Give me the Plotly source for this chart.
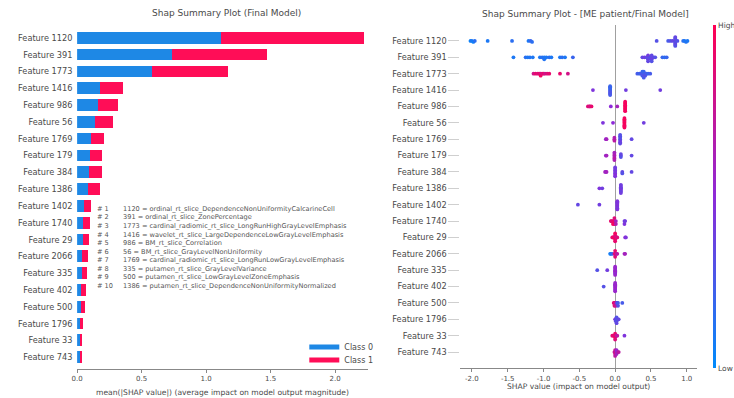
import numpy as np
import plotly.graph_objects as go

W, H = 734, 398

# ---------------------------------------------------------------- data
features = [
    "Feature 1120", "Feature 391", "Feature 1773", "Feature 1416", "Feature 986",
    "Feature 56", "Feature 1769", "Feature 179", "Feature 384", "Feature 1386",
    "Feature 1402", "Feature 1740", "Feature 29", "Feature 2066", "Feature 335",
    "Feature 402", "Feature 500", "Feature 1796", "Feature 33", "Feature 743",
]

# mean(|SHAP value|) per class for the bar summary
class0_mean_abs = [1.113, 0.735, 0.585, 0.180, 0.160, 0.140, 0.105, 0.097, 0.095, 0.088,
                   0.055, 0.050, 0.046, 0.042, 0.037, 0.033, 0.031, 0.024, 0.020, 0.020]
class1_mean_abs = [1.113, 0.735, 0.585, 0.180, 0.160, 0.140, 0.105, 0.097, 0.095, 0.088,
                   0.055, 0.050, 0.046, 0.042, 0.037, 0.033, 0.031, 0.024, 0.020, 0.020]

x_ticks_bar = [0.0, 0.5, 1.0, 1.5, 2.0]
x_ticks_swarm = [-2.0, -1.5, -1.0, -0.5, 0.0, 0.5, 1.0]

# per-feature SHAP values (ME patients) and normalised feature values (0 = low, 1 = high)
shap_1120 = [-2.02, -2.00, -1.98, -1.96, -1.78, -1.44, -1.21, -1.18, -1.16, 0.58, 0.74, 0.77, 0.80,
             0.84, 0.84, 0.84, 0.84, 0.84, 0.84, 0.84, 0.84, 0.84, 0.84, 0.87, 0.95, 0.97, 0.99, 1.01]
fval_1120 = [0.05, 0.10, 0.05, 0.15, 0.10, 0.15, 0.10, 0.20, 0.15, 0.30, 0.25, 0.30, 0.35,
             0.30, 0.35, 0.40, 0.30, 0.35, 0.32, 0.30, 0.38, 0.35, 0.30, 0.30, 0.15, 0.10, 0.12, 0.10]

shap_391 = [-1.42, -1.25, -1.22, -1.19, -1.15, -1.05, -1.02, -0.99, -0.99, -0.96, -0.92, -0.89,
            -0.77, -0.74, -0.70, -0.59, 0.38, 0.41, 0.44, 0.46, 0.46, 0.46, 0.46, 0.49, 0.51, 0.51,
            0.51, 0.51, 0.54, 0.56, 0.66, 0.69, 0.72]
fval_391 = [0.10, 0.15, 0.10, 0.12, 0.10, 0.10, 0.15, 0.10, 0.12, 0.10, 0.15, 0.10,
            0.10, 0.15, 0.10, 0.20, 0.35, 0.40, 0.35, 0.30, 0.35, 0.40, 0.35, 0.30, 0.35, 0.40,
            0.35, 0.30, 0.35, 0.30, 0.20, 0.15, 0.20]

shap_1773 = [-1.14, -1.11, -1.08, -1.06, -1.04, -1.04, -1.02, -1.00, -0.98, -0.95, -0.92, -0.77,
             -0.66, 0.31, 0.34, 0.36, 0.38, 0.38, 0.38, 0.40, 0.40, 0.40, 0.40, 0.42, 0.42, 0.44,
             0.46, 0.49]
fval_1773 = [0.80, 0.90, 0.85, 0.90, 0.80, 0.95, 0.85, 0.90, 0.80, 0.85, 0.90, 0.90,
             0.80, 0.25, 0.20, 0.25, 0.30, 0.25, 0.20, 0.25, 0.30, 0.20, 0.25, 0.25, 0.30, 0.25,
             0.20, 0.25]

shap_1416 = [-0.31, -0.07, -0.07, -0.07, -0.07, -0.07, -0.07, -0.07, -0.07, -0.07, -0.07, 0.15, 0.63]
fval_1416 = [0.45, 0.20, 0.25, 0.20, 0.30, 0.20, 0.25, 0.20, 0.30, 0.20, 0.25, 0.40, 0.40]

shap_986 = [-0.38, -0.36, -0.35, -0.33, -0.06, 0.03, 0.14, 0.14, 0.14, 0.14, 0.14, 0.14, 0.14, 0.14, 0.14]
fval_986 = [0.85, 0.90, 0.80, 0.90, 0.50, 0.60, 0.95, 0.95, 1.00, 0.95, 0.90, 0.95, 1.00, 0.95, 0.95]

shap_56 = [-0.17, -0.03, 0.13, 0.13, 0.13, 0.13, 0.13, 0.13, 0.13, 0.13, 0.13, 0.40]
fval_56 = [0.45, 0.50, 0.95, 0.95, 1.00, 0.95, 0.90, 0.95, 1.00, 0.95, 0.95, 0.40]

shap_1769 = [-0.13, -0.12, -0.01, -0.01, -0.01, 0.07, 0.07, 0.07, 0.07, 0.07, 0.07, 0.07, 0.23]
fval_1769 = [0.55, 0.60, 0.70, 0.70, 0.65, 0.30, 0.35, 0.30, 0.40, 0.30, 0.35, 0.30, 0.35]

shap_179 = [-0.13, -0.12, -0.01, -0.01, -0.01, -0.01, -0.01, -0.01, 0.08, 0.08, 0.08, 0.23]
fval_179 = [0.55, 0.60, 0.65, 0.60, 0.65, 0.70, 0.60, 0.65, 0.35, 0.30, 0.35, 0.35]

shap_384 = [-0.14, -0.13, -0.12, 0.00, 0.00, 0.00, 0.00, 0.00, 0.00, 0.00, 0.10, 0.10, 0.23]
fval_384 = [0.60, 0.55, 0.60, 0.45, 0.40, 0.45, 0.50, 0.40, 0.45, 0.40, 0.35, 0.30, 0.35]

shap_1386 = [-0.22, -0.18, 0.08, 0.08, 0.08, 0.08, 0.08, 0.08, 0.08, 0.08]
fval_1386 = [0.45, 0.40, 0.40, 0.35, 0.40, 0.45, 0.40, 0.35, 0.40, 0.40]

shap_1402 = [-0.52, -0.22, 0.03, 0.03, 0.03, 0.03, 0.03, 0.03, 0.03, 0.03]
fval_1402 = [0.35, 0.40, 0.45, 0.40, 0.45, 0.50, 0.45, 0.40, 0.45, 0.45]

shap_1740 = [-0.06, -0.05, -0.03, -0.03, -0.02, -0.01, -0.01, -0.01, 0.01, 0.01, 0.13, 0.13, 0.14]
fval_1740 = [0.90, 0.85, 0.90, 0.95, 0.90, 0.90, 0.95, 0.85, 0.60, 0.65, 0.40, 0.45, 0.40]

shap_29 = [-0.04, -0.03, -0.02, 0.00, 0.00, 0.00, 0.00, 0.00, 0.02, 0.03, 0.14, 0.15]
fval_29 = [0.85, 0.90, 0.95, 0.90, 0.95, 0.85, 0.90, 0.95, 0.80, 0.85, 0.50, 0.45]

shap_2066 = [-0.07, -0.06, -0.04, -0.01, 0.00, 0.00, 0.00, 0.02, 0.03, 0.13, 0.14]
fval_2066 = [0.05, 0.10, 0.20, 0.80, 0.90, 0.85, 0.90, 0.70, 0.70, 0.60, 0.60]

shap_335 = [-0.25, -0.11, 0.00, 0.00, 0.00, 0.00, 0.00, 0.00, 0.00, 0.00]
fval_335 = [0.30, 0.40, 0.55, 0.50, 0.55, 0.60, 0.55, 0.50, 0.55, 0.55]

shap_402 = [-0.16, 0.00, 0.00, 0.00, 0.00, 0.00, 0.00, 0.00, 0.00]
fval_402 = [0.30, 0.55, 0.50, 0.55, 0.60, 0.55, 0.50, 0.55, 0.55]

shap_500 = [-0.02, -0.01, -0.01, 0.00, 0.01, 0.01, 0.02, 0.03, 0.04, 0.04, 0.10]
fval_500 = [0.85, 0.90, 0.85, 0.80, 0.80, 0.75, 0.50, 0.30, 0.25, 0.30, 0.25]

shap_1796 = [0.00, 0.01, 0.01, 0.02, 0.02, 0.02, 0.02, 0.03, 0.05]
fval_1796 = [0.45, 0.40, 0.35, 0.30, 0.30, 0.30, 0.35, 0.30, 0.35]

shap_33 = [-0.04, -0.03, -0.01, 0.00, 0.00, 0.00, 0.00, 0.02, 0.03, 0.13]
fval_33 = [0.85, 0.90, 0.85, 0.90, 0.95, 0.90, 0.85, 0.70, 0.70, 0.45]

shap_743 = [-0.01, 0.00, 0.00, 0.00, 0.00, 0.02, 0.02, 0.02, 0.04, 0.05]
fval_743 = [0.70, 0.75, 0.80, 0.75, 0.70, 0.60, 0.60, 0.55, 0.65, 0.70]

swarm_rows = [
    (shap_1120, fval_1120), (shap_391, fval_391), (shap_1773, fval_1773), (shap_1416, fval_1416),
    (shap_986, fval_986), (shap_56, fval_56), (shap_1769, fval_1769), (shap_179, fval_179),
    (shap_384, fval_384), (shap_1386, fval_1386), (shap_1402, fval_1402), (shap_1740, fval_1740),
    (shap_29, fval_29), (shap_2066, fval_2066), (shap_335, fval_335), (shap_402, fval_402),
    (shap_500, fval_500), (shap_1796, fval_1796), (shap_33, fval_33), (shap_743, fval_743),
]

feature_notes = [
    ("# 1", "1120 = ordinal_rt_slice_DependenceNonUniformityCalcarineCell"),
    ("# 2", "391 = ordinal_rt_slice_ZonePercentage"),
    ("# 3", "1773 = cardinal_radiomic_rt_slice_LongRunHighGrayLevelEmphasis"),
    ("# 4", "1416 = wavelet_rt_slice_LargeDependenceLowGrayLevelEmphasis"),
    ("# 5", "986 = BM_rt_slice_Correlation"),
    ("# 6", "56 = BM_rt_slice_GrayLevelNonUniformity"),
    ("# 7", "1769 = cardinal_radiomic_rt_slice_LongRunLowGrayLevelEmphasis"),
    ("# 8", "335 = putamen_rt_slice_GrayLevelVariance"),
    ("# 9", "500 = putamen_rt_slice_LowGrayLevelZoneEmphasis"),
    ("# 10", "1386 = putamen_rt_slice_DependenceNonUniformityNormalized"),
]

# ---------------------------------------------------------------- helpers
BLUE = "#1E88E5"
RED = "#FF0D57"
TEXT = "#4a4a4a"
FONT = "DejaVu Sans"
SHAP_SCALE = [[0.0, "#008bfb"], [0.5, "#8d2ad8"], [1.0, "#ff0052"]]


def fx(px):
    return px / W


def fy(py):
    return 1 - py / H


def swarm_offsets(vals, row_height=0.4, nbins=100):
    """Beeswarm-style vertical offsets: points falling into the same bin are stacked."""
    vals = np.asarray(vals, dtype=float)
    span = vals.max() - vals.min() + 1e-8
    quant = np.round(nbins * (vals - vals.min()) / span)
    order = np.argsort(quant, kind="stable")
    ys = np.zeros(len(vals))
    layer, last = 0, None
    for i in order:
        if quant[i] != last:
            layer = 0
        ys[i] = np.ceil(layer / 2) * ((layer % 2) * 2 - 1)
        layer += 1
        last = quant[i]
    ys *= 0.9 * (row_height / np.max(ys + 1))
    return ys


idx = list(range(len(features)))

fig = go.Figure()

# ---------------------------------------------------------------- bar summary (left)
fig.add_trace(go.Bar(x=class0_mean_abs, y=idx, orientation="h", marker_color=BLUE,
                     marker_line_width=0, width=0.7, showlegend=False,
                     xaxis="x", yaxis="y", name="Class 0"))
fig.add_trace(go.Bar(x=class1_mean_abs, y=idx, orientation="h", marker_color=RED,
                     marker_line_width=0, width=0.7, showlegend=False,
                     xaxis="x", yaxis="y", name="Class 1"))

# legend entries drawn as short thick strokes
fig.add_trace(go.Scatter(x=[None], y=[None], mode="lines", line=dict(color=BLUE, width=5),
                         name="Class 0", legend="legend", xaxis="x", yaxis="y"))
fig.add_trace(go.Scatter(x=[None], y=[None], mode="lines", line=dict(color=RED, width=5),
                         name="Class 1", legend="legend2", xaxis="x", yaxis="y"))

# ---------------------------------------------------------------- beeswarm (right)
xs, ys, cs = [], [], []
for row, (sv, fv) in enumerate(swarm_rows):
    off = swarm_offsets(sv)
    xs.extend(sv)
    ys.extend(row + off)
    cs.extend(fv)

fig.add_trace(go.Scatter(
    x=xs, y=ys, mode="markers", xaxis="x2", yaxis="y2", showlegend=False,
    marker=dict(size=3.8, color=cs, colorscale=SHAP_SCALE, cmin=0, cmax=1,
                line=dict(width=0),
                colorbar=dict(x=fx(716), xanchor="left", xpad=0, ypad=0,
                              y=fy(196.5), yanchor="middle", len=343.4 / H, lenmode="fraction",
                              thickness=3, outlinewidth=0, ticks="",
                              tickvals=[0, 1], ticktext=["Low", "High"],
                              tickfont=dict(family=FONT, size=7.5, color=TEXT))),
))

axis_font = dict(family=FONT, size=8.2, color=TEXT)
tick_font = dict(family=FONT, size=7, color=TEXT)

fig.update_layout(
    width=W, height=H, autosize=False,
    margin=dict(l=0, r=0, t=0, b=0, pad=0),
    paper_bgcolor="white", plot_bgcolor="white",
    font=dict(family=FONT, color=TEXT),
    barmode="stack", bargap=0,
    xaxis=dict(domain=[fx(72), fx(366)], range=[0, (366 - 72) / 130.6],
               tickvals=x_ticks_bar, ticktext=[f"{v:.1f}" for v in x_ticks_bar],
               tickfont=tick_font, ticks="outside", ticklen=3, tickcolor="#888",
               showline=True, linecolor="#888", linewidth=0.8, showgrid=False,
               zeroline=False, anchor="y"),
    yaxis=dict(domain=[fy(369), fy(21.2)], range=[19.7, -1], tickvals=idx, ticktext=features,
               tickfont=axis_font, ticks="outside", ticklen=2, tickcolor="rgba(0,0,0,0)",
               showline=False, showgrid=False, zeroline=False, anchor="x"),
    xaxis2=dict(domain=[fx(460), fx(700)], range=[(460 - 616.7) / 72.5, (700 - 616.7) / 72.5],
                tickvals=x_ticks_swarm, ticktext=[f"{v:.1f}" for v in x_ticks_swarm],
                tickfont=tick_font, ticks="outside", ticklen=3, tickcolor="#888",
                showline=True, linecolor="#888", linewidth=0.8, showgrid=False,
                zeroline=True, zerolinecolor="#a0a0a0", zerolinewidth=1, anchor="y2"),
    yaxis2=dict(domain=[fy(368.4), fy(24.6)], range=[20, -1], tickvals=idx, ticktext=features,
                tickfont=axis_font, ticks="outside", ticklen=11, tickwidth=0.5, tickcolor="#cfcfcf",
                showline=False, showgrid=False, zeroline=False, anchor="x2"),
    legend=dict(x=fx(302), y=fy(347), xanchor="left", yanchor="middle",
                bgcolor="rgba(0,0,0,0)", borderwidth=0, itemwidth=30,
                font=dict(family=FONT, size=8, color=TEXT)),
    legend2=dict(x=fx(302), y=fy(360), xanchor="left", yanchor="middle",
                 bgcolor="rgba(0,0,0,0)", borderwidth=0, itemwidth=30,
                 font=dict(family=FONT, size=8, color=TEXT)),
)

annotations = [
    dict(text="Shap Summary Plot (Final Model)", x=fx(223), y=fy(13),
         font=dict(family=FONT, size=9, color=TEXT)),
    dict(text="Shap Summary Plot - [ME patient/Final Model]", x=fx(587), y=fy(14),
         font=dict(family=FONT, size=9, color=TEXT)),
    dict(text="mean(|SHAP value|) (average impact on model output magnitude)", x=fx(219), y=fy(392),
         font=dict(family=FONT, size=7.6, color=TEXT)),
    dict(text="SHAP value (impact on model output)", x=fx(580), y=fy(386),
         font=dict(family=FONT, size=7.6, color=TEXT)),
]
for k, (num, note) in enumerate(feature_notes):
    yy = fy(209 + 8.5 * k)
    annotations.append(dict(text=num, x=fx(90), y=yy, xanchor="left",
                            font=dict(family=FONT, size=6.6, color="#555")))
    annotations.append(dict(text=note, x=fx(116), y=yy, xanchor="left",
                            font=dict(family=FONT, size=6.6, color="#555")))

for a in annotations:
    a.setdefault("xanchor", "center")
    a.update(xref="paper", yref="paper", yanchor="middle", showarrow=False)

fig.update_layout(annotations=annotations)

fig.write_html("out.html")
